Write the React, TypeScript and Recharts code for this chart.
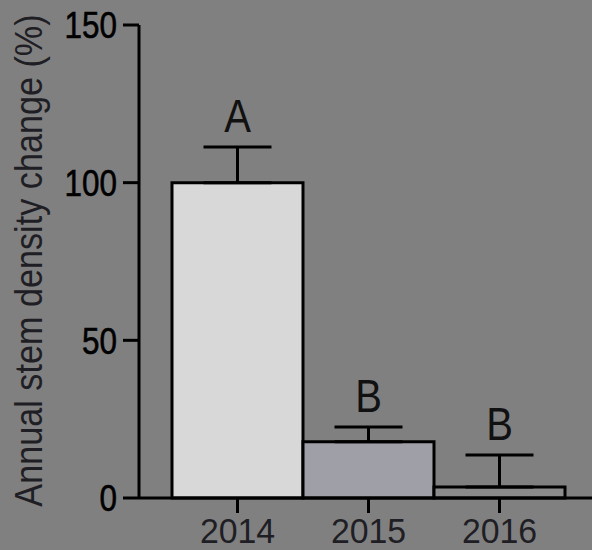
import React from 'react';
import {
  ComposedChart,
  Bar,
  Line,
  Cell,
  XAxis,
  YAxis,
  ErrorBar,
  LabelList,
} from 'recharts';

// Annual stem density change by year, with upper SEM and group letters
const years = ['2014', '2015', '2016'];
const meanChange = [100, 17.8, 3.5];
const errUpper = [11.3, 4.7, 10.1];
const groupLetters = ['A', 'B', 'B'];
const barFills = ['#d8d8d8', '#9f9fa7', '#8b8b8b'];
const yTicks = [0, 50, 100, 150];

const data = years.map((year, i) => ({
  year,
  mean: meanChange[i],
  err: [0, errUpper[i]],
  top: meanChange[i] + errUpper[i],
  letter: groupLetters[i],
}));

const FONT = '"Liberation Sans", Arial, Helvetica, sans-serif';

const YTick = (props: any) => {
  const { x, y, payload } = props;
  return (
    <text
      x={0}
      y={0}
      transform={`translate(${x},${y}) scale(0.85,1)`}
      textAnchor="end"
      dy="0.36em"
      fontSize={37}
      fontFamily={FONT}
      stroke="#000"
      strokeWidth={0.6}
      fill="#000"
    >
      {payload.value}
    </text>
  );
};

const XTick = (props: any) => {
  const { x, y, payload } = props;
  return (
    <text
      x={0}
      y={0}
      transform={`translate(${x},${y + 30}) scale(0.94,1)`}
      textAnchor="middle"
      fontSize={36}
      fontFamily={FONT}
      fill="#1e1e24"
    >
      {payload.value}
    </text>
  );
};

const LetterLabel = (props: any) => {
  const { x, y, value } = props;
  return (
    <text
      x={0}
      y={0}
      transform={`translate(${x},${y - 15}) scale(0.87,1)`}
      textAnchor="middle"
      fontSize={46}
      fontFamily={FONT}
      fill="#111"
    >
      {value}
    </text>
  );
};

const YTitle = (props: any) => {
  const { viewBox } = props;
  const cy = viewBox.y + viewBox.height / 2;
  return (
    <text
      x={0}
      y={0}
      transform={`translate(42,${cy - 1}) rotate(-90) scale(0.877,1)`}
      textAnchor="middle"
      fontSize={39}
      fontFamily={FONT}
      fill="#1e1e24"
    >
      Annual stem density change (%)
    </text>
  );
};

export default function App() {
  return (
    <div
      style={{
        position: 'absolute',
        left: 0,
        top: 0,
        width: 592,
        height: 550,
        background: '#808080',
      }}
    >
      <ComposedChart
        width={592}
        height={550}
        data={data}
        margin={{ top: 25, right: 0, bottom: 0, left: 0 }}
        barCategoryGap={0}
        barGap={0}
      >
        <XAxis
          dataKey="year"
          height={52}
          padding={{ left: 33, right: 27 }}
          axisLine={{ stroke: '#000', strokeWidth: 3 }}
          tickLine={{ stroke: '#000', strokeWidth: 3 }}
          tickSize={15}
          tickMargin={0}
          tick={<XTick />}
          interval={0}
        />
        <YAxis
          width={139}
          domain={[0, 150]}
          ticks={yTicks}
          axisLine={{ stroke: '#000', strokeWidth: 3 }}
          tickLine={{ stroke: '#000', strokeWidth: 3 }}
          tickSize={16}
          tickMargin={6}
          tick={<YTick />}
          label={{ content: <YTitle /> }}
        />
        <Bar
          dataKey="mean"
          stroke="#000"
          strokeWidth={3}
          isAnimationActive={false}
        >
          {data.map((d, i) => (
            <Cell key={d.year} fill={barFills[i]} />
          ))}
          <ErrorBar
            dataKey="err"
            direction="y"
            width={34}
            stroke="#000"
            strokeWidth={3}
          />
        </Bar>
        <Line
          dataKey="top"
          stroke="none"
          dot={false}
          activeDot={false}
          isAnimationActive={false}
        >
          <LabelList dataKey="letter" content={<LetterLabel />} />
        </Line>
      </ComposedChart>
    </div>
  );
}
